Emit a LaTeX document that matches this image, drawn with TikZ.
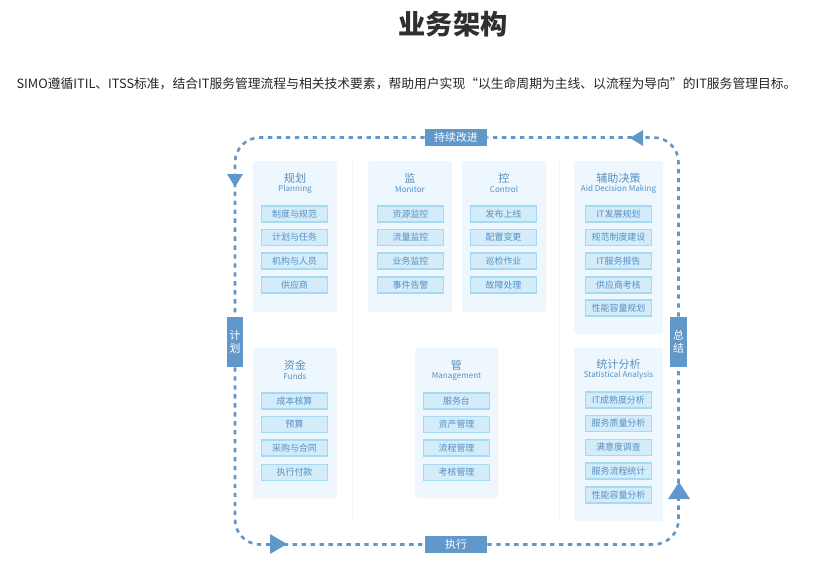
\documentclass[tikz,border=0pt]{standalone}
\usepackage{fontspec}
\setmainfont{Noto Sans CJK SC}
\usepackage{xcolor}
\usetikzlibrary{calc}
\definecolor{looptint}{HTML}{6098CB}
\definecolor{itemink}{HTML}{5590C2}
\definecolor{itemfill}{HTML}{D4ECFA}
\definecolor{itemedge}{HTML}{A6DAF3}
\definecolor{panelfill}{HTML}{EEF7FD}
\definecolor{titleink}{HTML}{2F2F2F}
\tikzset{
 panelbox/.style={fill=panelfill, rounded corners=1pt, inner sep=0pt},
 itembox/.style={draw=itemedge, line width=.7pt, fill=itemfill, text=itemink, minimum width=1.32cm, minimum height=.32cm, inner sep=0pt, font=\fontsize{5.1}{6}\selectfont},
 paneltitle/.style={text=itemink, inner sep=0pt, font=\fontsize{6.3}{7}\selectfont},
 panelsub/.style={text=itemink, inner sep=0pt, font=\fontsize{4.6}{5}\selectfont},
 looplabel/.style={fill=looptint, text=white, inner sep=0pt, font=\fontsize{6.2}{7.4}\selectfont, align=center},
 loopline/.style={draw=looptint, line width=1.5pt, dash pattern=on 2.5pt off 2.6pt, rounded corners=.5cm},
 splitline/.style={draw=panelfill, line width=.8pt}
}
\newcommand{\panel}[7]{
 \node[panelbox, minimum width=#3*.02cm, minimum height=#4*.02cm] (#1) at #2 {};
 \node[paneltitle] (#1title) at ($ #2 + (0,#7) $) {#5};
 \node[panelsub] (#1sub) at ($ #2 + (0,#7+11) $) {#6};
}
\newcommand{\cell}[3]{
 \node[itembox] (#1) at #2 {#3};
}
\newcommand{\widecomma}{\char"FF0C\relax}
\begin{document}
\begin{tikzpicture}[x=.02cm, y=-.02cm]
 \useasboundingbox (0,0) rectangle (826,562);
 \fill[white] (0,0) rectangle (826,562);
%
 \node[text=titleink, inner sep=0pt, font=\fontsize{15.5}{18}\selectfont\bfseries] (pagetitle) at (453,24) {业务架构};
 \node[text=black!85, inner sep=0pt, font=\fontsize{7.28}{9}\selectfont] (pagetext) at (406.5,83.5) {SIMO遵循ITIL、ITSS标准\widecomma 结合IT服务管理流程与相关技术要素\widecomma 帮助用户实现“以生命周期为主线、以流程为导向”的IT服务管理目标。};
%
 \coordinate (splitatop) at (352.5,161);
 \coordinate (splitabot) at (352.5,521);
 \coordinate (splitbtop) at (559.5,161);
 \coordinate (splitbbot) at (559.5,521);
 \draw[splitline] (splitatop) -- (splitabot);
 \draw[splitline] (splitbtop) -- (splitbbot);
%
 \node[looplabel, minimum width=1.24cm, minimum height=.34cm] (improve) at (456,137.5) {持续改进};
 \node[looplabel, minimum width=1.24cm, minimum height=.34cm] (execute) at (456,544.5) {执行};
 \node[looplabel, minimum width=.34cm, minimum height=1cm] (plan) at (235,342) {计\\划};
 \node[looplabel, minimum width=.34cm, minimum height=1cm] (summary) at (678.5,342) {总\\结};
%
 \draw[loopline] (improve.west) -| (plan.north);
 \draw[loopline] (plan.south) |- (execute.west);
 \draw[loopline] (execute.east) -| (summary.south);
 \draw[loopline] (summary.north) |- (improve.east);
%
 \fill[looptint] (227,174) -- (243,174) -- (235,187) -- cycle;
 \fill[looptint] (643,130) -- (643,146) -- (630,138) -- cycle;
 \fill[looptint] (270,534) -- (270,554) -- (287,544) -- cycle;
 \fill[looptint] (668,499) -- (690,499) -- (679,482) -- cycle;
%
 \panel{planning}{(295,236.5)}{84}{151}{规划}{Planning}{-58}
 \cell{planone}{(294.5,214)}{制度与规范}
 \cell{plantwo}{(294.5,237.5)}{计划与任务}
 \cell{planthree}{(294.5,261)}{机构与人员}
 \cell{planfour}{(294.5,285)}{供应商}
%
 \panel{monitor}{(410,236.5)}{84}{151}{监}{Monitor}{-58}
 \cell{monone}{(410.5,214)}{资源监控}
 \cell{montwo}{(410.5,237.5)}{流量监控}
 \cell{monthree}{(410.5,261)}{业务监控}
 \cell{monfour}{(410.5,285)}{事件告警}
%
 \panel{control}{(504,236.5)}{84}{151}{控}{Control}{-58}
 \cell{conone}{(503.5,214)}{发布上线}
 \cell{contwo}{(503.5,237.5)}{配置变更}
 \cell{conthree}{(503.5,261)}{巡检作业}
 \cell{confour}{(503.5,285)}{故障处理}
%
 \panel{decision}{(618.5,247.5)}{89}{173}{辅助决策}{Aid Decision Making}{-69.5}
 \cell{decone}{(618.5,214)}{IT发展规划}
 \cell{dectwo}{(618.5,237.5)}{规范制度建设}
 \cell{decthree}{(618.5,261)}{IT服务报告}
 \cell{decfour}{(618.5,285)}{供应商考核}
 \cell{decfive}{(618.5,308)}{性能容量规划}
%
 \panel{funds}{(295,423)}{84}{150}{资金}{Funds}{-58}
 \cell{fundone}{(294.5,401)}{成本核算}
 \cell{fundtwo}{(294.5,424.5)}{预算}
 \cell{fundthree}{(294.5,448)}{采购与合同}
 \cell{fundfour}{(294.5,472.5)}{执行付款}
%
 \panel{manage}{(456.5,423)}{83}{150}{管}{Management}{-57.5}
 \cell{manone}{(456.5,401)}{服务台}
 \cell{mantwo}{(456.5,424.5)}{资产管理}
 \cell{manthree}{(456.5,448)}{流程管理}
 \cell{manfour}{(456.5,472.5)}{考核管理}
%
 \panel{stats}{(618.5,434.5)}{89}{173}{统计分析}{Statistical Analysis}{-70}
 \cell{statone}{(618.5,400)}{IT成熟度分析}
 \cell{stattwo}{(618.5,423.5)}{服务质量分析}
 \cell{statthree}{(618.5,447.5)}{满意度调查}
 \cell{statfour}{(618.5,471)}{服务流程统计}
 \cell{statfive}{(618.5,495)}{性能容量分析}
\end{tikzpicture}
\end{document}
